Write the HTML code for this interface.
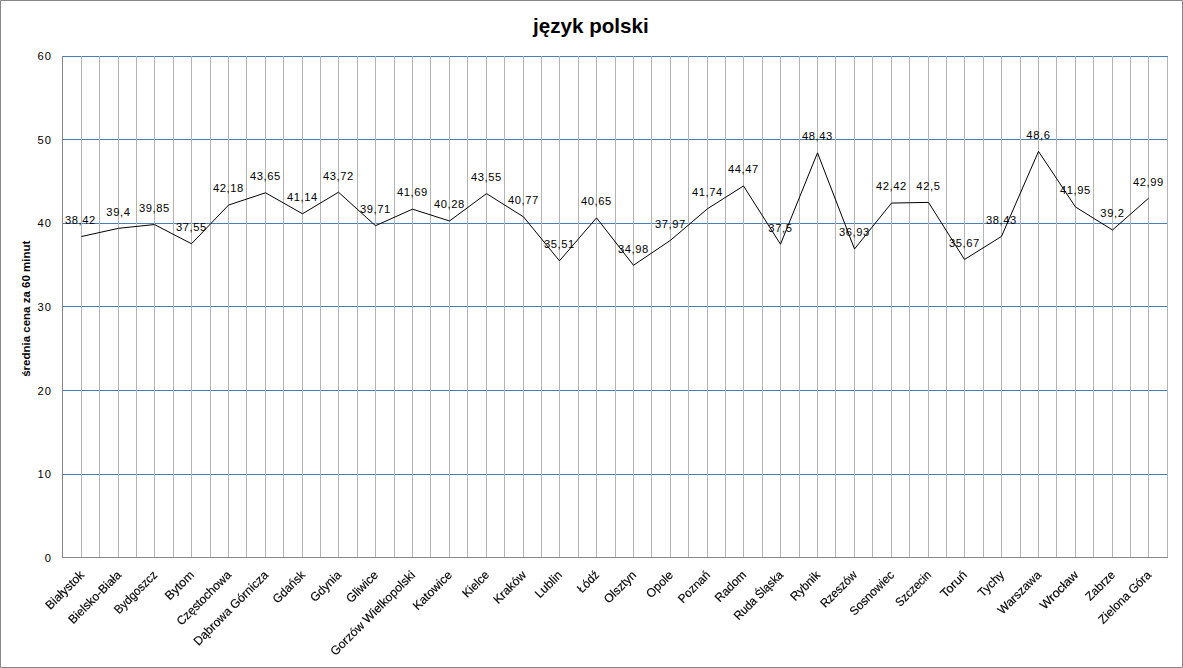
<!DOCTYPE html><html><head><meta charset="utf-8"><style>html,body{margin:0;padding:0;background:#fff;}svg{display:block;}text{font-family:"Liberation Sans",sans-serif;}</style></head><body>
<svg width="1183" height="668" viewBox="0 0 1183 668">
<rect x="0" y="0" width="1183" height="668" fill="#fff"/>
<g stroke="#4A7EBB" stroke-width="1" shape-rendering="crispEdges">
<line x1="62" y1="56.5" x2="1168" y2="56.5"/>
<line x1="62" y1="139.5" x2="1168" y2="139.5"/>
<line x1="62" y1="223.5" x2="1168" y2="223.5"/>
<line x1="62" y1="306.5" x2="1168" y2="306.5"/>
<line x1="62" y1="390.5" x2="1168" y2="390.5"/>
<line x1="62" y1="474.5" x2="1168" y2="474.5"/>
</g>
<g stroke="#B4B4B4" stroke-width="1" shape-rendering="crispEdges">
<line x1="81.5" y1="56" x2="81.5" y2="557"/>
<line x1="99.5" y1="56" x2="99.5" y2="557"/>
<line x1="118.5" y1="56" x2="118.5" y2="557"/>
<line x1="136.5" y1="56" x2="136.5" y2="557"/>
<line x1="154.5" y1="56" x2="154.5" y2="557"/>
<line x1="173.5" y1="56" x2="173.5" y2="557"/>
<line x1="191.5" y1="56" x2="191.5" y2="557"/>
<line x1="210.5" y1="56" x2="210.5" y2="557"/>
<line x1="228.5" y1="56" x2="228.5" y2="557"/>
<line x1="246.5" y1="56" x2="246.5" y2="557"/>
<line x1="265.5" y1="56" x2="265.5" y2="557"/>
<line x1="283.5" y1="56" x2="283.5" y2="557"/>
<line x1="302.5" y1="56" x2="302.5" y2="557"/>
<line x1="320.5" y1="56" x2="320.5" y2="557"/>
<line x1="338.5" y1="56" x2="338.5" y2="557"/>
<line x1="357.5" y1="56" x2="357.5" y2="557"/>
<line x1="375.5" y1="56" x2="375.5" y2="557"/>
<line x1="394.5" y1="56" x2="394.5" y2="557"/>
<line x1="412.5" y1="56" x2="412.5" y2="557"/>
<line x1="430.5" y1="56" x2="430.5" y2="557"/>
<line x1="449.5" y1="56" x2="449.5" y2="557"/>
<line x1="467.5" y1="56" x2="467.5" y2="557"/>
<line x1="486.5" y1="56" x2="486.5" y2="557"/>
<line x1="504.5" y1="56" x2="504.5" y2="557"/>
<line x1="523.5" y1="56" x2="523.5" y2="557"/>
<line x1="541.5" y1="56" x2="541.5" y2="557"/>
<line x1="559.5" y1="56" x2="559.5" y2="557"/>
<line x1="578.5" y1="56" x2="578.5" y2="557"/>
<line x1="596.5" y1="56" x2="596.5" y2="557"/>
<line x1="615.5" y1="56" x2="615.5" y2="557"/>
<line x1="633.5" y1="56" x2="633.5" y2="557"/>
<line x1="651.5" y1="56" x2="651.5" y2="557"/>
<line x1="670.5" y1="56" x2="670.5" y2="557"/>
<line x1="688.5" y1="56" x2="688.5" y2="557"/>
<line x1="707.5" y1="56" x2="707.5" y2="557"/>
<line x1="725.5" y1="56" x2="725.5" y2="557"/>
<line x1="743.5" y1="56" x2="743.5" y2="557"/>
<line x1="762.5" y1="56" x2="762.5" y2="557"/>
<line x1="780.5" y1="56" x2="780.5" y2="557"/>
<line x1="799.5" y1="56" x2="799.5" y2="557"/>
<line x1="817.5" y1="56" x2="817.5" y2="557"/>
<line x1="835.5" y1="56" x2="835.5" y2="557"/>
<line x1="854.5" y1="56" x2="854.5" y2="557"/>
<line x1="872.5" y1="56" x2="872.5" y2="557"/>
<line x1="891.5" y1="56" x2="891.5" y2="557"/>
<line x1="909.5" y1="56" x2="909.5" y2="557"/>
<line x1="928.5" y1="56" x2="928.5" y2="557"/>
<line x1="946.5" y1="56" x2="946.5" y2="557"/>
<line x1="964.5" y1="56" x2="964.5" y2="557"/>
<line x1="983.5" y1="56" x2="983.5" y2="557"/>
<line x1="1001.5" y1="56" x2="1001.5" y2="557"/>
<line x1="1020.5" y1="56" x2="1020.5" y2="557"/>
<line x1="1038.5" y1="56" x2="1038.5" y2="557"/>
<line x1="1056.5" y1="56" x2="1056.5" y2="557"/>
<line x1="1075.5" y1="56" x2="1075.5" y2="557"/>
<line x1="1093.5" y1="56" x2="1093.5" y2="557"/>
<line x1="1112.5" y1="56" x2="1112.5" y2="557"/>
<line x1="1130.5" y1="56" x2="1130.5" y2="557"/>
<line x1="1148.5" y1="56" x2="1148.5" y2="557"/>
<line x1="1167.5" y1="57" x2="1167.5" y2="557"/>
</g>
<g stroke="#868686" stroke-width="1" shape-rendering="crispEdges">
<line x1="62.5" y1="56" x2="62.5" y2="558"/>
<line x1="62" y1="557.5" x2="1168" y2="557.5"/>
</g>
<polyline fill="none" stroke="#000" stroke-width="1.0" stroke-linejoin="round" points="81.50,236.51 118.50,228.32 154.50,224.55 191.50,243.78 228.50,205.08 265.50,192.79 302.50,213.77 338.50,192.20 375.50,225.72 412.50,209.17 449.50,220.96 486.50,193.62 523.50,216.86 559.50,260.84 596.50,217.87 633.50,265.27 670.50,240.27 707.50,208.75 743.50,185.93 780.50,244.20 817.50,152.83 854.50,248.97 891.50,203.07 928.50,202.40 964.50,259.50 1001.50,236.43 1038.50,151.40 1075.50,207.00 1112.50,229.99 1148.50,198.30"/>
<g class="dl">
<g font-size="11.2" letter-spacing="0" fill="#000" text-anchor="middle">
<text x="80.10" y="223.81" textLength="30.36" lengthAdjust="spacing">38,42</text>
<text x="118.10" y="215.62" textLength="23.60" lengthAdjust="spacing">39,4</text>
<text x="154.10" y="211.85" textLength="30.36" lengthAdjust="spacing">39,85</text>
<text x="191.10" y="231.08" textLength="30.36" lengthAdjust="spacing">37,55</text>
<text x="228.10" y="192.38" textLength="30.36" lengthAdjust="spacing">42,18</text>
<text x="265.10" y="180.09" textLength="30.36" lengthAdjust="spacing">43,65</text>
<text x="302.10" y="201.07" textLength="30.36" lengthAdjust="spacing">41,14</text>
<text x="338.10" y="179.50" textLength="30.36" lengthAdjust="spacing">43,72</text>
<text x="375.10" y="213.02" textLength="30.36" lengthAdjust="spacing">39,71</text>
<text x="412.10" y="196.47" textLength="30.36" lengthAdjust="spacing">41,69</text>
<text x="449.10" y="208.26" textLength="30.36" lengthAdjust="spacing">40,28</text>
<text x="486.10" y="180.92" textLength="30.36" lengthAdjust="spacing">43,55</text>
<text x="523.10" y="204.16" textLength="30.36" lengthAdjust="spacing">40,77</text>
<text x="559.10" y="248.14" textLength="30.36" lengthAdjust="spacing">35,51</text>
<text x="596.10" y="205.17" textLength="30.36" lengthAdjust="spacing">40,65</text>
<text x="633.10" y="252.57" textLength="30.36" lengthAdjust="spacing">34,98</text>
<text x="670.10" y="227.57" textLength="30.36" lengthAdjust="spacing">37,97</text>
<text x="707.10" y="196.05" textLength="30.36" lengthAdjust="spacing">41,74</text>
<text x="743.10" y="173.23" textLength="30.36" lengthAdjust="spacing">44,47</text>
<text x="780.10" y="231.50" textLength="23.60" lengthAdjust="spacing">37,5</text>
<text x="817.10" y="140.13" textLength="30.36" lengthAdjust="spacing">48,43</text>
<text x="854.10" y="236.27" textLength="30.36" lengthAdjust="spacing">36,93</text>
<text x="891.10" y="190.37" textLength="30.36" lengthAdjust="spacing">42,42</text>
<text x="928.10" y="189.70" textLength="23.60" lengthAdjust="spacing">42,5</text>
<text x="964.10" y="246.80" textLength="30.36" lengthAdjust="spacing">35,67</text>
<text x="1001.10" y="223.73" textLength="30.36" lengthAdjust="spacing">38,43</text>
<text x="1038.10" y="138.70" textLength="23.60" lengthAdjust="spacing">48,6</text>
<text x="1075.10" y="194.30" textLength="30.36" lengthAdjust="spacing">41,95</text>
<text x="1112.10" y="217.29" textLength="23.60" lengthAdjust="spacing">39,2</text>
<text x="1148.10" y="185.60" textLength="30.36" lengthAdjust="spacing">42,99</text>
</g></g>
<g font-size="11.2" letter-spacing="1.0" fill="#000" text-anchor="end">
<text x="52" y="60.00">60</text>
<text x="52" y="143.60">50</text>
<text x="52" y="227.20">40</text>
<text x="52" y="310.80">30</text>
<text x="52" y="395.40">20</text>
<text x="52" y="478.00">10</text>
<text x="52" y="561.60">0</text>
</g>
<g class="cat" font-size="12.2" fill="#000" text-anchor="end" style="filter:grayscale(1);stroke:#000;stroke-width:0.15px">
<text transform="translate(84.90,575.7) rotate(-45)" textLength="48.89" lengthAdjust="spacingAndGlyphs">Białystok</text>
<text transform="translate(121.90,575.7) rotate(-45)" textLength="68.87" lengthAdjust="spacingAndGlyphs">Bielsko-Biała</text>
<text transform="translate(157.90,575.7) rotate(-45)" textLength="54.99" lengthAdjust="spacingAndGlyphs">Bydgoszcz</text>
<text transform="translate(194.90,575.7) rotate(-45)" textLength="35.44" lengthAdjust="spacingAndGlyphs">Bytom</text>
<text transform="translate(231.90,575.7) rotate(-45)" textLength="71.31" lengthAdjust="spacingAndGlyphs">Częstochowa</text>
<text transform="translate(268.90,575.7) rotate(-45)" textLength="99.65" lengthAdjust="spacingAndGlyphs">Dąbrowa Górnicza</text>
<text transform="translate(305.90,575.7) rotate(-45)" textLength="40.08" lengthAdjust="spacingAndGlyphs">Gdańsk</text>
<text transform="translate(341.90,575.7) rotate(-45)" textLength="37.90" lengthAdjust="spacingAndGlyphs">Gdynia</text>
<text transform="translate(378.90,575.7) rotate(-45)" textLength="39.39" lengthAdjust="spacingAndGlyphs">Gliwice</text>
<text transform="translate(415.90,575.7) rotate(-45)" textLength="114.07" lengthAdjust="spacingAndGlyphs">Gorzów Wielkopolski</text>
<text transform="translate(452.90,575.7) rotate(-45)" textLength="49.67" lengthAdjust="spacingAndGlyphs">Katowice</text>
<text transform="translate(489.90,575.7) rotate(-45)" textLength="31.95" lengthAdjust="spacingAndGlyphs">Kielce</text>
<text transform="translate(526.90,575.7) rotate(-45)" textLength="40.58" lengthAdjust="spacingAndGlyphs">Kraków</text>
<text transform="translate(562.90,575.7) rotate(-45)" textLength="32.74" lengthAdjust="spacingAndGlyphs">Lublin</text>
<text transform="translate(599.90,575.7) rotate(-45)" textLength="25.16" lengthAdjust="spacingAndGlyphs">Łódź</text>
<text transform="translate(636.90,575.7) rotate(-45)" textLength="39.88" lengthAdjust="spacingAndGlyphs">Olsztyn</text>
<text transform="translate(673.90,575.7) rotate(-45)" textLength="32.56" lengthAdjust="spacingAndGlyphs">Opole</text>
<text transform="translate(710.90,575.7) rotate(-45)" textLength="39.58" lengthAdjust="spacingAndGlyphs">Poznań</text>
<text transform="translate(746.90,575.7) rotate(-45)" textLength="38.31" lengthAdjust="spacingAndGlyphs">Radom</text>
<text transform="translate(783.90,575.7) rotate(-45)" textLength="63.89" lengthAdjust="spacingAndGlyphs">Ruda Śląska</text>
<text transform="translate(820.90,575.7) rotate(-45)" textLength="36.41" lengthAdjust="spacingAndGlyphs">Rybnik</text>
<text transform="translate(857.90,575.7) rotate(-45)" textLength="46.18" lengthAdjust="spacingAndGlyphs">Rzeszów</text>
<text transform="translate(894.90,575.7) rotate(-45)" textLength="57.27" lengthAdjust="spacingAndGlyphs">Sosnowiec</text>
<text transform="translate(931.90,575.7) rotate(-45)" textLength="44.63" lengthAdjust="spacingAndGlyphs">Szczecin</text>
<text transform="translate(967.90,575.7) rotate(-45)" textLength="32.19" lengthAdjust="spacingAndGlyphs">Toruń</text>
<text transform="translate(1004.90,575.7) rotate(-45)" textLength="31.21" lengthAdjust="spacingAndGlyphs">Tychy</text>
<text transform="translate(1041.90,575.7) rotate(-45)" textLength="55.68" lengthAdjust="spacingAndGlyphs">Warszawa</text>
<text transform="translate(1078.90,575.7) rotate(-45)" textLength="48.48" lengthAdjust="spacingAndGlyphs">Wrocław</text>
<text transform="translate(1115.90,575.7) rotate(-45)" textLength="36.18" lengthAdjust="spacingAndGlyphs">Zabrze</text>
<text transform="translate(1151.90,575.7) rotate(-45)" textLength="68.91" lengthAdjust="spacingAndGlyphs">Zielona Góra</text>
</g>
<text x="590.9" y="32.5" font-size="20.6" font-weight="bold" text-anchor="middle" fill="#000">język polski</text>
<text transform="translate(29.7,308.75) rotate(-90)" font-size="11.5" font-weight="bold" text-anchor="middle" fill="#000">średnia cena za 60 minut</text>
<rect x="0.5" y="0.5" width="1182" height="667" fill="none" stroke="#868686" stroke-width="1" shape-rendering="crispEdges"/>
<rect x="0" y="0" width="1" height="1" fill="#A8A8A8"/>
<rect x="1182" y="0" width="1" height="1" fill="#A8A8A8"/>
<rect x="0" y="667" width="1" height="1" fill="#A8A8A8"/>
<rect x="1182" y="667" width="1" height="1" fill="#A8A8A8"/>
</svg>
</body></html>
